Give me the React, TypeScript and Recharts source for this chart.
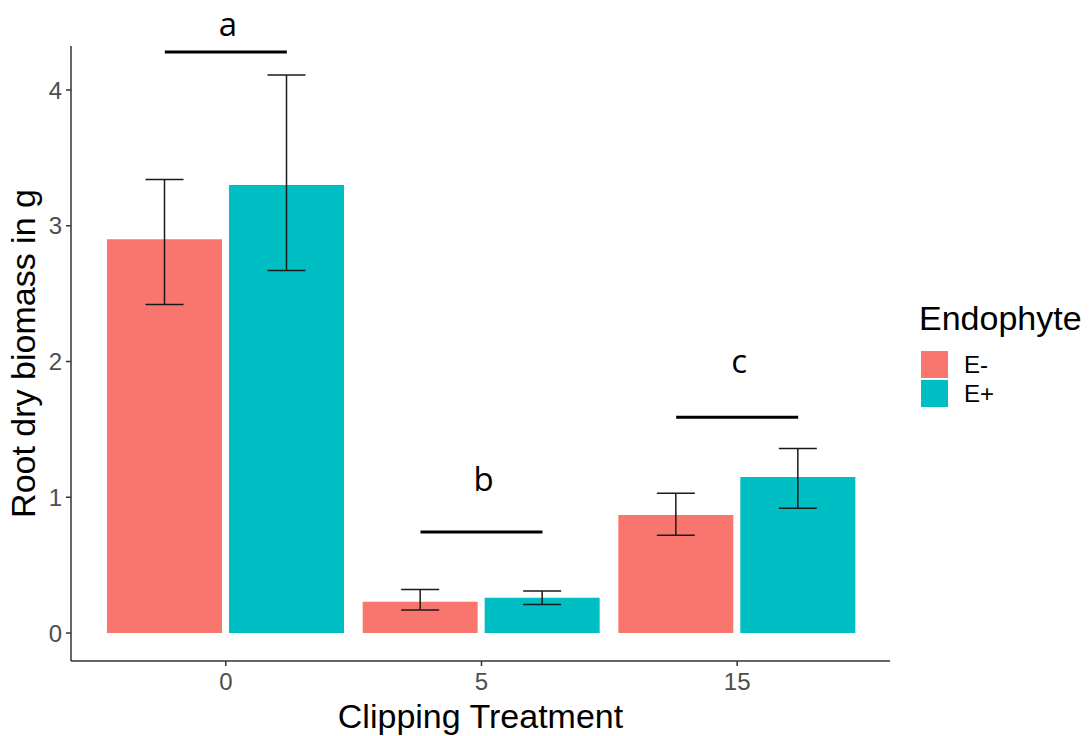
import React from "react";
import {
    BarChart,
    Bar,
    XAxis,
    YAxis,
    ErrorBar,
    Legend,
    ReferenceLine,
    ReferenceDot,
} from "recharts";

// clipping treatments on the x axis
const treatments = ["0", "5", "15"];

// root dry biomass (g), per endophyte status
const eMinusMean = [2.9, 0.23, 0.87];
const eMinusLow = [2.42, 0.17, 0.72];
const eMinusHigh = [3.34, 0.32, 1.03];

const ePlusMean = [3.3, 0.26, 1.15];
const ePlusLow = [2.67, 0.21, 0.92];
const ePlusHigh = [4.11, 0.31, 1.36];

// significance groups: letter, bar height and letter height
const sigLetters = ["a", "b", "c"];
const sigLineY = [4.28, 0.745, 1.59];
const sigLabelY = [4.395, 1.045, 1.915];

const yTicks = [0, 1, 2, 3, 4];

const series = [
    { key: "eMinus", name: "E-", color: "#F8766D" },
    { key: "ePlus", name: "E+", color: "#00BFC4" },
];

const FONT = "'Liberation Sans', Arial, sans-serif";
const BAR_GAP = 7;
const HALF_PAIR = 61; // distance from group centre to each bar centre

const data = treatments.map((t, i) => ({
    treatment: t,
    eMinus: eMinusMean[i],
    eMinusErr: [eMinusMean[i] - eMinusLow[i], eMinusHigh[i] - eMinusMean[i]],
    ePlus: ePlusMean[i],
    ePlusErr: [ePlusMean[i] - ePlusLow[i], ePlusHigh[i] - ePlusMean[i]],
}));

function SigLine(props: any) {
    const { x1, y1, y2, x2 } = props;
    const cx = (x1 + x2) / 2;
    return <line x1={cx - HALF_PAIR} x2={cx + HALF_PAIR} y1={y1} y2={y2} stroke="#000" strokeWidth={3} />;
}

function sigLetter(letter: string) {
    return (props: any) => (
        <text x={props.cx + 2} y={props.cy} textAnchor="middle" fontFamily="'Open Sans', sans-serif" fontSize={33} fill="#000">
            {letter}
        </text>
    );
}

function LegendBox() {
    return (
        <div style={{ fontFamily: FONT, color: "#000" }}>
            <div style={{ fontSize: 34, lineHeight: "34px", whiteSpace: "nowrap" }}>Endophyte</div>
            <div style={{ marginTop: 16 }}>
                {series.map((s) => (
                    <div key={s.key} style={{ display: "flex", alignItems: "center", height: 27, marginBottom: 2 }}>
                        <div style={{ width: 27, height: 27, marginLeft: 2, background: s.color }} />
                        <span style={{ fontSize: 24, marginLeft: 16, lineHeight: "27px" }}>{s.name}</span>
                    </div>
                ))}
            </div>
        </div>
    );
}

export default function App() {
    return (
        <div style={{ position: "absolute", left: 0, top: 0, width: 1090, height: 736, background: "#fff" }}>
            <BarChart
                width={1090}
                height={736}
                data={data}
                margin={{ top: 46, right: 29, bottom: 0, left: 0 }}
                barCategoryGap={9}
                barGap={BAR_GAP}
            >
                <XAxis
                    dataKey="treatment"
                    height={75}
                    padding={{ left: 27, right: 25 }}
                    stroke="#333"
                    strokeWidth={1.5}
                    tickSize={5}
                    tickMargin={7}
                    tick={{ fill: "#4D4D4D", fontSize: 24, fontFamily: FONT }}
                    label={{
                        content: ({ viewBox }: any) => (
                            <text x={viewBox.x + viewBox.width / 2} y={728} textAnchor="middle" fontFamily={FONT} fontSize={34} fill="#000">
                                Clipping Treatment
                            </text>
                        ),
                    }}
                />
                <YAxis
                    width={71}
                    type="number"
                    domain={[-0.206, 4.324]}
                    allowDataOverflow
                    ticks={yTicks}
                    stroke="#333"
                    strokeWidth={1.5}
                    tickSize={5}
                    tickMargin={4}
                    tick={{ fill: "#4D4D4D", fontSize: 24, fontFamily: FONT }}
                    label={{
                        content: ({ viewBox }: any) => {
                            const cy = viewBox.y + viewBox.height / 2;
                            return (
                                <text x={35} y={cy} transform={`rotate(-90 35 ${cy})`} textAnchor="middle" fontFamily={FONT} fontSize={34} fill="#000">
                                    Root dry biomass in g
                                </text>
                            );
                        },
                    }}
                />
                <Legend
                    layout="vertical"
                    align="right"
                    verticalAlign="middle"
                    wrapperStyle={{ left: 919, top: 301, width: 171 }}
                    content={() => <LegendBox />}
                />
                {series.map((s) => (
                    <Bar key={s.key} dataKey={s.key} name={s.name} fill={s.color} isAnimationActive={false}>
                        <ErrorBar dataKey={`${s.key}Err`} width={19} stroke="#1a1a1a" strokeWidth={1.5} direction="y" isAnimationActive={false} />
                    </Bar>
                ))}
                {treatments.map((t, i) => (
                    <ReferenceLine
                        key={`line-${t}`}
                        segment={[{ x: t, y: sigLineY[i] }, { x: t, y: sigLineY[i] }]}
                        shape={SigLine}
                        ifOverflow="visible"
                    />
                ))}
                {treatments.map((t, i) => (
                    <ReferenceDot key={`lab-${t}`} x={t} y={sigLabelY[i]} ifOverflow="visible" shape={sigLetter(sigLetters[i])} />
                ))}
            </BarChart>
        </div>
    );
}
